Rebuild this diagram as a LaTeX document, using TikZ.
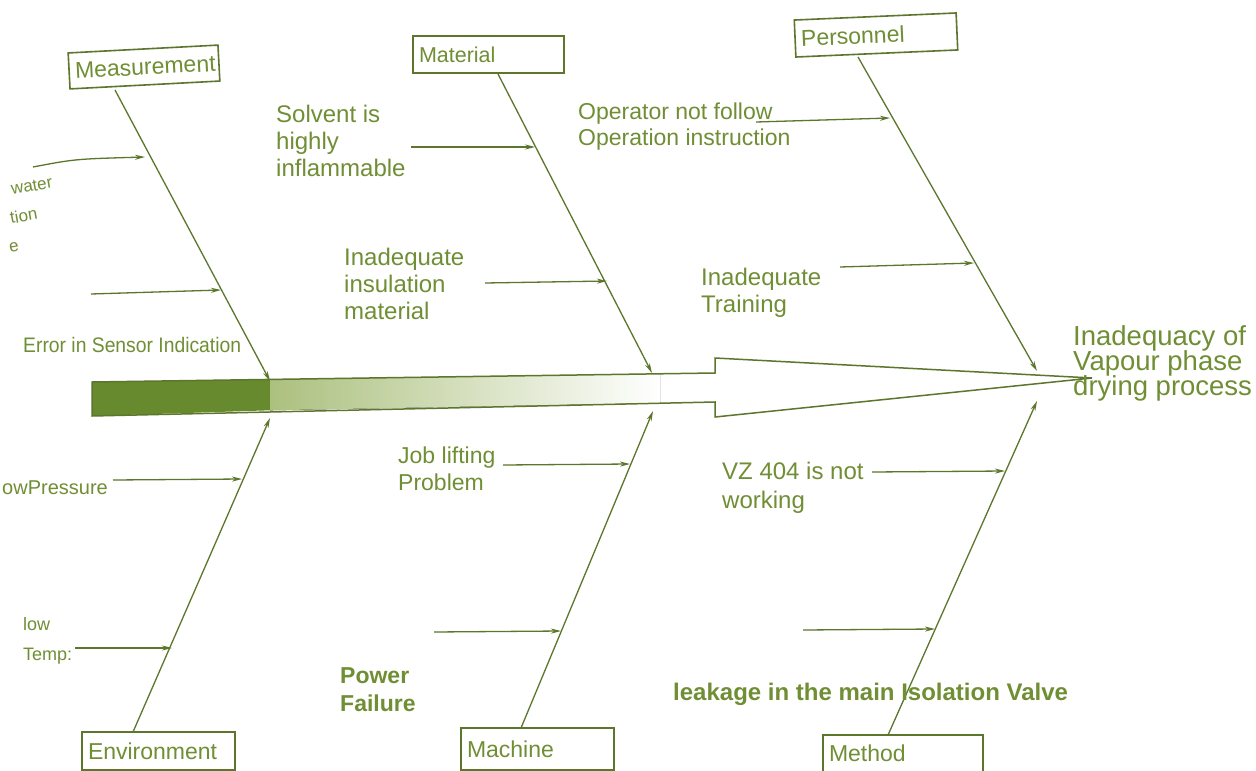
\documentclass[tikz,border=0pt]{standalone}
\usepackage{fontspec}
\setmainfont{Liberation Sans}
\usetikzlibrary{arrows.meta}

\definecolor{fishtext}{RGB}{112,142,52}
\definecolor{fishline}{RGB}{92,118,44}
\definecolor{fishbar}{RGB}{104,138,46}
\definecolor{fishfade}{RGB}{172,192,126}

\newcommand{\effectfont}{\fontsize{27.5}{25}\selectfont\lineskiplimit-20pt\relax}

\tikzset{
    catbox/.style={draw=fishline, line width=1.6pt, fill=white, text=fishtext,
        inner xsep=6pt, inner ysep=0pt, align=left,
        font=\fontsize{23}{26}\selectfont},
    bone/.style={draw=fishline, line width=1.3pt, -{Stealth[length=10pt,width=5pt]}},
    cause/.style={draw=fishline, line width=1.3pt, -{Stealth[length=10pt,width=5pt]}},
    causetext/.style={text=fishtext, inner sep=0pt, align=left, anchor=north west,
        font=\fontsize{24}{27}\selectfont},
}

\begin{document}
\begin{tikzpicture}[x=1pt, y=-1pt]
    \useasboundingbox (0,0) rectangle (1256,771);
    \clip (0,0) rectangle (1256,771);
    \fill[white] (0,0) rectangle (1256,771);

    % draw spine
    \fill[fishbar] (92,382) -- (270,379.5) -- (270,410.3) -- (92,416) -- cycle;
    \fill[left color=fishfade, right color=white] (270,379.5) -- (660,374) -- (660,403) -- (270,410.3) -- cycle;
    \draw[fishline, line width=1.5pt] (92,382) -- (715,373) -- (715,358) -- (1092,378)
        coordinate (head) -- (715,417) -- (715,402) -- (92,416) -- cycle;

    % draw category boxes
    \node[catbox, rotate=3, text width=138pt, minimum height=36pt] (meas) at (144,67) {Measurement};
    \node[catbox, text width=139pt, minimum height=37pt, font=\fontsize{21.5}{24}\selectfont] (mat) at (488.5,54.5) {Material};
    \node[catbox, rotate=2.5, text width=150pt, minimum height=37pt] (pers) at (876,35) {Personnel};
    \node[catbox, text width=141pt, minimum height=38pt] (env) at (158.5,751) {Environment};
    \node[catbox, text width=141pt, minimum height=42pt] (mach) at (537.5,749) {Machine};
    \node[catbox, text width=148pt, minimum height=37pt] (meth) at (903,753.5) {Method};

    % draw effect
    \node[causetext, font=\effectfont] (effect) at (1073,325)
        {Inadequacy of\\Vapour phase\\drying process};

    % bone ends
    \coordinate (measFoot) at (115,90);   \coordinate (measTip) at (270,381);
    \coordinate (matFoot) at (498,74);    \coordinate (matTip) at (652,373);
    \coordinate (persFoot) at (858,57);   \coordinate (persTip) at (1037,371);
    \coordinate (envFoot) at (133,732);   \coordinate (envTip) at (270,418);
    \coordinate (machFoot) at (521,728);  \coordinate (machTip) at (653,411);
    \coordinate (methFoot) at (888,735);  \coordinate (methTip) at (1037,401);

    % draw bones
    \foreach \b in {meas,mat,pers,env,mach,meth}
      \draw[bone] (\b Foot) -- (\b Tip);

    % cause arrow ends
    \coordinate (meas1s) at (33,167);   \coordinate (meas1e) at (145,157);
    \coordinate (meas2s) at (91,294);   \coordinate (meas2e) at (221,290);
    \coordinate (mat1s) at (411,147);   \coordinate (mat1e) at (535,147);
    \coordinate (mat2s) at (485,283);   \coordinate (mat2e) at (607,281);
    \coordinate (pers1s) at (756,122);  \coordinate (pers1e) at (890,118);
    \coordinate (pers2s) at (840,267);  \coordinate (pers2e) at (974,263);
    \coordinate (env1s) at (113,480);   \coordinate (env1e) at (242,479);
    \coordinate (env2s) at (75,648);    \coordinate (env2e) at (172,648);
    \coordinate (mach1s) at (503,465);  \coordinate (mach1e) at (630,464);
    \coordinate (mach2s) at (434,632);  \coordinate (mach2e) at (561,631);
    \coordinate (meth1s) at (872,472);  \coordinate (meth1e) at (1005,471);
    \coordinate (meth2s) at (803,630);  \coordinate (meth2e) at (935,629);

    % draw cause arrows
    \draw[cause] (meas1s) .. controls (75,159) .. (meas1e);
    \foreach \c in {meas2,mat1,mat2,pers1,pers2,env1,env2,mach1,mach2,meth1,meth2}
      \draw[cause] (\c s) -- (\c e);

    % draw cause texts
    \node[causetext, anchor=base west, rotate=10, font=\fontsize{17}{18}\selectfont] (water) at (12,195) {water};
    \node[causetext, anchor=base west, rotate=10, font=\fontsize{17}{18}\selectfont] (tion) at (11,224) {tion};
    \node[causetext, anchor=base west, rotate=10, font=\fontsize{17}{18}\selectfont] (wline) at (10,253) {e};
    \node[causetext, anchor=base west, xscale=0.92, font=\fontsize{21}{24}\selectfont] (sensor) at (23,352) {Error in Sensor Indication};
    \node[causetext] (solvent) at (276,105) {Solvent is\\highly\\inflammable};
    \node[causetext] (insul) at (344,248) {Inadequate\\insulation\\material};
    \node[causetext, font=\fontsize{23}{26}\selectfont] (operator) at (578,103) {Operator not follow\\Operation instruction};
    \node[causetext] (training) at (701,268) {Inadequate\\Training};
    \node[causetext, anchor=base east, font=\fontsize{20}{24}\selectfont] (pressure) at (108,494) {owPressure};
    \node[causetext, font=\fontsize{18}{30}\selectfont] (temp) at (23,617) {low\\Temp:};
    \node[causetext, font=\fontsize{23}{27}\selectfont] (joblift) at (398,447) {Job lifting\\Problem};
    \node[causetext, font=\bfseries\fontsize{23}{28}\selectfont] (power) at (340,667) {Power\\Failure};
    \node[causetext, font=\fontsize{24}{29}\selectfont] (vz) at (722,462) {VZ 404 is not\\working};
    \node[causetext, anchor=base west, font=\bfseries\fontsize{24}{27}\selectfont] (leak) at (673,700) {leakage in the main Isolation Valve};

\end{tikzpicture}
\end{document}
